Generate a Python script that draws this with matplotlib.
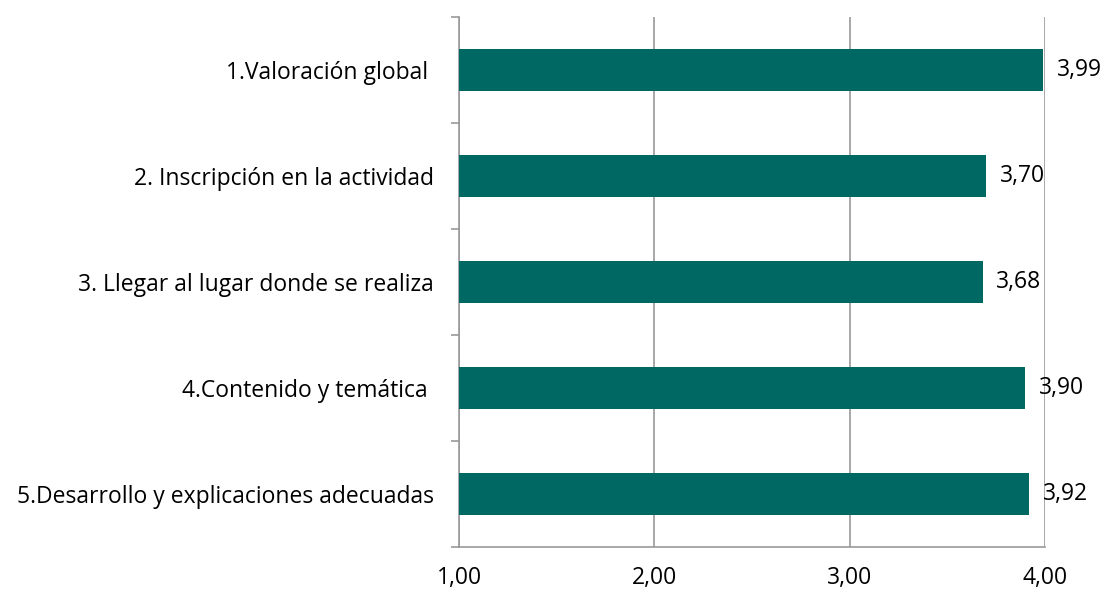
import matplotlib.pyplot as plt
import numpy as np

# Datos
categorias = ['1.Valoración global ', '2. Inscripción en la actividad',
              '3. Llegar al lugar donde se realiza', '4.Contenido y temática ',
              '5.Desarrollo y explicaciones adecuadas']
valores = [3.99, 3.70, 3.68, 3.90, 3.92]
ticks_x = [1, 2, 3, 4]
etiquetas_x = ['1,00', '2,00', '3,00', '4,00']

plt.rcParams['font.family'] = ['Open Sans', 'DejaVu Sans']
fs = 16.5

fig = plt.figure(figsize=(11.09, 5.94), dpi=100)
ax = fig.add_axes([0.4139, 0.0791, 0.9423 - 0.4139, 0.9714 - 0.0791])

y = np.arange(len(categorias))
ax.barh(y, np.array(valores) - 1, left=1, height=0.4, color='#006863', zorder=3)

for yi, v in zip(y, valores):
    ax.annotate(f'{v:.2f}'.replace('.', ','), (v, yi), xytext=(10, 0),
                textcoords='offset points', va='center', ha='left',
                fontsize=fs, color='black', zorder=4)

ax.set_xlim(1, 4)
ax.set_ylim(len(categorias) - 0.5, -0.5)
ax.set_xticks(ticks_x)
ax.set_xticklabels(etiquetas_x, fontsize=fs)
ax.set_yticks(y)
ax.set_yticklabels(categorias, fontsize=fs)
ax.set_yticks(np.arange(-0.5, len(categorias), 1), minor=True)

ax.tick_params(axis='x', length=0, pad=14)
ax.tick_params(axis='y', which='major', length=0, pad=18)
ax.tick_params(axis='y', which='minor', length=6, width=1.2, color='#999999', direction='out')

ax.grid(axis='x', color='#999999', linewidth=1.2, zorder=0)
for s in ['top', 'right']:
    ax.spines[s].set_visible(False)
for s in ['left', 'bottom']:
    ax.spines[s].set_color('#999999')
    ax.spines[s].set_linewidth(1.2)

fig.savefig('out.png', dpi=100)
